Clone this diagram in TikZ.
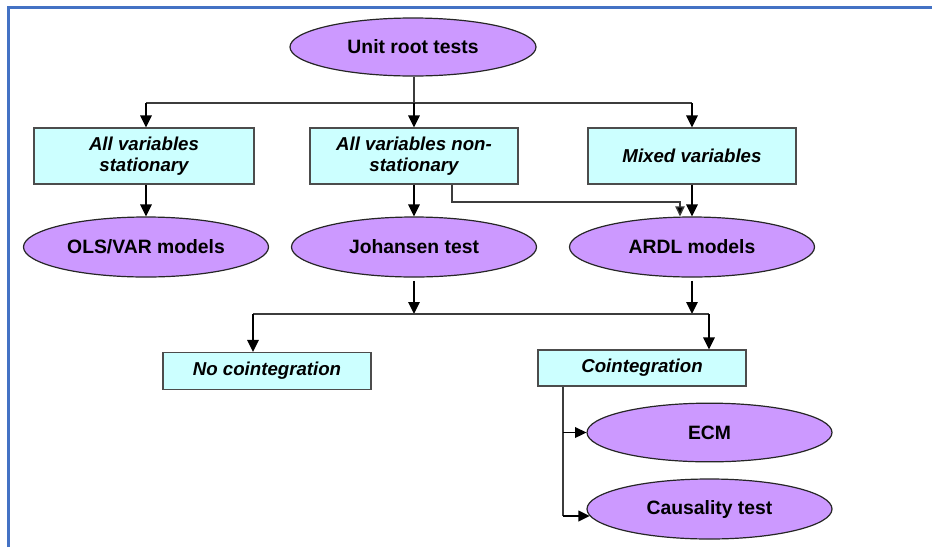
\documentclass[tikz,border=0pt]{standalone}
\usepackage{fontspec}
\setmainfont{Liberation Sans}
\usetikzlibrary{shapes.geometric,arrows.meta,calc}
\definecolor{purp}{RGB}{204,153,255}
\definecolor{cyanbox}{RGB}{204,255,255}
\definecolor{bord}{RGB}{68,114,196}
\definecolor{lin}{RGB}{60,60,60}
\begin{document}
\begin{tikzpicture}[x=0.75pt,y=-0.75pt,
  ell/.style={ellipse,draw=black!85,fill=purp,line width=0.9pt,minimum width=183.75pt,minimum height=45pt,inner sep=0pt,font=\fontsize{14.5}{16}\selectfont\bfseries},
  box/.style={rectangle,draw=black!70,fill=cyanbox,line width=0.8pt,minimum width=156pt,minimum height=42pt,inner sep=0pt,align=center,font=\fontsize{14}{16}\selectfont\bfseries\itshape},
  conn/.style={draw=lin,line width=1pt},
  arr/.style={draw=black,line width=1.5pt,-{Triangle[length=9pt,width=8.5pt]}},
  sarr/.style={draw=lin,line width=1pt,-{Triangle[length=7.5pt,width=7pt,fill=black]}},
  marr/.style={draw=black,line width=1.2pt,-{Triangle[length=8.5pt,width=8pt]}}
]
\useasboundingbox (0,0) rectangle (932,547);
\fill[white] (0,0) rectangle (932,547);
\draw[bord,line width=1.6pt] (8.5,547) -- (8.5,7.5) -- (932,7.5);

\node[ell,minimum width=184.5pt,minimum height=43.5pt] (unit) at (413,47) {Unit root tests};
\node[box,minimum width=165pt] (b1) at (144,156) {All variables\\stationary};
\node[box] (b2) at (414,156) {All variables non-\\stationary};
\node[box] (b3) at (692,156) {Mixed variables};
\node[ell] (ols) at (146,247) {OLS/VAR models};
\node[ell] (joh) at (414,247) {Johansen test};
\node[ell] (ardl) at (692,247) {ARDL models};
\node[box,minimum height=27.75pt] (noco) at (267,371) {No cointegration};
\node[box,minimum height=27pt] (co) at (642,368) {Cointegration};
\node[ell,minimum height=44pt] (ecm) at (709.5,432.5) {ECM};
\node[ell] (caus) at (709.5,509) {\raisebox{-2pt}{Causality test}};

\coordinate (t) at (414,103);
\coordinate (tl) at (146,103);
\coordinate (tr) at (692,103);
\draw[conn] (t |- unit.south) -- (t);
\draw[conn] (tl) -- (tr);
\draw[arr] (tl) -- (tl |- b1.north);
\draw[arr] (t) -- (b2.north);
\draw[arr] (tr) -- (b3.north);
\draw[arr] (ols.north |- b1.south) -- (ols.north);
\draw[arr] (b2.south) -- (joh.north);
\draw[arr] (b3.south) -- (ardl.north);

\coordinate (cs) at (452,202);
\coordinate (cr) at (680,202);
\draw[sarr] (cs |- b2.south) -- (cs) -- (cr) -- (cr |- ardl.north);

\coordinate (ml) at (253,314);
\coordinate (mr) at (709,314);
\draw[arr] ([yshift=-2.5pt]joh.south) -- (joh.south |- ml);
\draw[arr] ([yshift=-2.5pt]ardl.south) -- (ardl.south |- ml);
\draw[conn] (ml) -- (mr);
\draw[arr] (ml) -- (ml |- noco.north);
\draw[arr] (mr) -- (mr |- co.north);

\coordinate (cv) at (563,516);
\draw[conn] (cv |- co.south) -- (cv);
\draw[marr] (cv |- ecm.west) -- (ecm.west);
\draw[marr] (cv) -- ([xshift=2.5pt]caus.west |- cv);
\end{tikzpicture}
\end{document}
